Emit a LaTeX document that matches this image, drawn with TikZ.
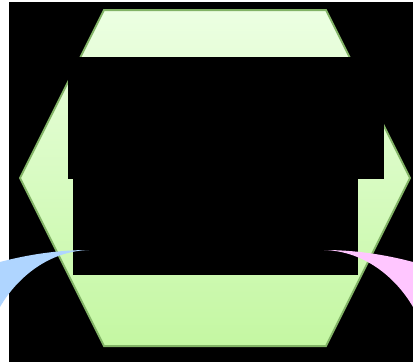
\documentclass[tikz,border=0pt]{standalone}
\begin{document}
\begin{tikzpicture}[x=1pt,y=-1pt]
\definecolor{hexline}{HTML}{82B366}
\definecolor{hextop}{HTML}{ECFFE2}
\definecolor{hexbot}{HTML}{C4F7A2}
\definecolor{tailblue}{HTML}{AFD5FF}
\definecolor{tailpink}{HTML}{FFC6FF}
\useasboundingbox (0,0) rectangle (413,364);

% Background
\fill[white] (0,0) rectangle (413,364);
\fill[black] (9,2) rectangle (413,362);

% Hexagon with gradient
\draw[line width=2, draw=hexline, top color=hextop, bottom color=hexbot]
  (104,10) -- (326,10) -- (410,178) -- (326,346) -- (104,346) -- (20,178) -- cycle;

% Black boxes
\fill[black] (68,57) rectangle (384,178.5);
\fill[black] (73,178) rectangle (358,275);

% Curved tails
\fill[tailblue] (89,250) .. controls (50,251) and (18,276) .. (0,307)
  -- (0,262) .. controls (30,254) and (60,250) .. (89,250);
\fill[tailpink] (324,250) .. controls (363,251) and (395,276) .. (413,307)
  -- (413,262) .. controls (383,254) and (353,250) .. (324,250);
\end{tikzpicture}
\end{document}
